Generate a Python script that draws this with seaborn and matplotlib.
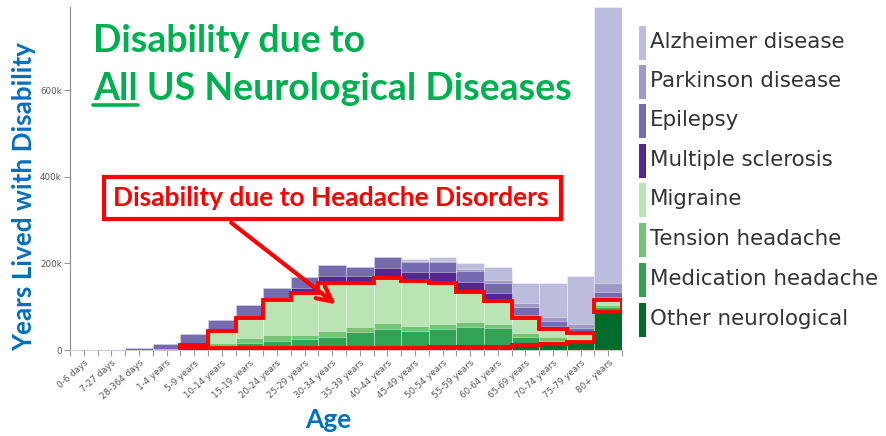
import matplotlib
matplotlib.use("Agg")
import matplotlib.pyplot as plt
import seaborn as sns
from matplotlib.patches import Rectangle, Polygon

ages = ["0-6 days", "7-27 days", "28-364 days", "1-4 years", "5-9 years",
        "10-14 years", "15-19 years", "20-24 years", "25-29 years", "30-34 years",
        "35-39 years", "40-44 years", "45-49 years", "50-54 years", "55-59 years",
        "60-64 years", "65-69 years", "70-74 years", "75-79 years", "80+ years"]

# years lived with disability, in thousands, bottom of the stack first
other = [0.2, 0.3, 0.8, 1.5, 3.5, 4.2, 4.2, 4.2, 4.2, 4.2, 4.2, 4.2, 4.5, 7, 8, 8, 11, 12.7, 19.5, 87.7]
medication = [0, 0, 0, 0, 1.5, 5, 12, 17.3, 22.3, 25.1, 38, 45, 39.6, 41.5, 44.4, 42, 19.5, 9.2, 4, 10.9]
tension = [0, 0, 0, 0, 1.5, 8, 12, 13.1, 7, 14.6, 11.6, 13.1, 12.2, 11.5, 12.9, 10, 7.6, 7, 3, 5.3]
migraine = [0, 0, 0, 0, 5, 27.3, 46.3, 80.8, 99.2, 110.7, 100.2, 105, 103, 94.6, 69.3, 53.1, 35.1, 20, 12, 10.8]
ms = [0, 0, 0, 0, 1, 2, 2, 3, 11, 16.2, 16.8, 21.3, 21, 25.4, 21.7, 19.1, 7.6, 6.5, 4, 7]
epilepsy = [0, 0.4, 3, 12, 23.7, 22.7, 27.4, 25.8, 24, 24.9, 20.1, 25.4, 22.3, 23, 26.7, 21.8, 19.1, 12.2, 8, 11.5]
parkinson = [0] * 12 + [2, 3.1, 5, 7.6, 7.9, 9.3, 9.5, 20.7]
alzheimer = [0] * 12 + [4.7, 9.2, 12.1, 30.7, 47.5, 77, 111.5, 637.7]

causes = ["Other neurological", "Medication headache", "Tension headache", "Migraine",
          "Multiple sclerosis", "Epilepsy", "Parkinson disease", "Alzheimer disease"]
series = [other, medication, tension, migraine, ms, epilepsy, parkinson, alzheimer]
colors = ["#006d2c", "#31a354", "#74c476", "#bae4b3",
          "#54278f", "#756bb1", "#9e9ac8", "#bcbddc"]

# running totals so the bars can be drawn as overlapping layers
cum = []
run = [0.0] * len(ages)
for s in series:
    run = [a + b for a, b in zip(run, s)]
    cum.append(run)

sns.set_theme(style="white")
fig = plt.figure(figsize=(8.87, 4.36), dpi=100)
W, H = 887, 436
ax = fig.add_axes([70 / W, 1 - 350 / H, (622 - 70) / W, (350 - 7) / H])

for k in range(len(series) - 1, -1, -1):
    sns.barplot(x=ages, y=cum[k], color=colors[k], width=1.0, ax=ax,
                edgecolor=(1, 1, 1, 0.45), linewidth=0.6, saturation=1)

# red outline around the headache disorders
hd_bottom = cum[0]
hd_top = cum[3]
pts_top, pts_bot = [], []
for i in range(4, 19):
    pts_top += [(i - 0.5, hd_top[i]), (i + 0.5, hd_top[i])]
    pts_bot += [(i - 0.5, hd_bottom[i]), (i + 0.5, hd_bottom[i])]
ax.add_patch(Polygon(pts_top + pts_bot[::-1], closed=True, fill=False,
                     edgecolor="red", lw=2.8, joinstyle="miter", zorder=5))
ax.add_patch(Rectangle((18.5, hd_bottom[19]), 1, hd_top[19] - hd_bottom[19], fill=False,
                       edgecolor="red", lw=2.8, joinstyle="miter", zorder=5))

ax.set_xlim(-0.5, 19.5)
ax.set_ylim(0, cum[-1][19])
ax.set_yticks([0, 200, 400, 600])
ax.set_yticklabels(["0", "200k", "400k", "600k"])
ax.set_xticks(range(len(ages)))
ax.set_xticklabels(ages, rotation=42, ha="right", va="top", rotation_mode="anchor")
ax.set_xticks([i - 0.5 for i in range(len(ages) + 1)], minor=True)
ax.tick_params(axis="both", which="both", labelsize=6.3, labelcolor="#555555",
               color="#999999", length=4, width=0.8, pad=2, direction="out")
ax.tick_params(axis="x", which="both", bottom=True)
ax.tick_params(axis="y", left=True)
ax.set_xlabel("")
ax.set_ylabel("")
for side in ["top", "right"]:
    ax.spines[side].set_visible(False)
ax.spines["left"].set_color("#888888")
ax.spines["bottom"].set_color("#cccccc")
ax.spines["left"].set_linewidth(0.8)
ax.spines["bottom"].set_linewidth(0.8)

# axis titles
blue = "#0070c0"
fig.text(24 / W, 1 - 197 / H, "Years Lived with Disability", rotation=90, color=blue,
         fontsize=18.8, fontweight="bold", family="Lato", ha="center", va="center")
fig.text(328 / W, 1 - 420 / H, "Age", color=blue, fontsize=19, fontweight="bold",
         family="Lato", ha="center", va="center")

# title
green = "#00b050"
fig.text(93 / W, 1 - 52 / H, "Disability due to", color=green, fontsize=27,
         fontweight="bold", family="Lato", ha="left", va="baseline")
fig.text(93 / W, 1 - 100 / H, "All US Neurological Diseases", color=green, fontsize=27,
         fontweight="bold", family="Lato", ha="left", va="baseline")
fig.canvas.draw()
tmp = fig.text(93 / W, 1 - 100 / H, "All", fontsize=27, fontweight="bold",
               family="Lato", alpha=0)
bb = tmp.get_window_extent(fig.canvas.get_renderer())
fig.add_artist(plt.Line2D([bb.x0 / W, bb.x1 / W], [1 - 105 / H, 1 - 105 / H],
                          color=green, lw=2.6, transform=fig.transFigure))

# headache callout
fig.add_artist(Rectangle((104 / W, 1 - 219 / H), (561 - 104) / W, (219 - 177) / H,
                         transform=fig.transFigure, facecolor="white",
                         edgecolor="red", lw=3))
fig.text(331 / W, 1 - 198 / H, "Disability due to Headache Disorders", color="red",
         fontsize=19, fontweight="bold", family="Lato", ha="center", va="center")
ax.annotate("", xy=(338 / W, 1 - 306 / H), xytext=(229 / W, 1 - 221 / H),
            xycoords="figure fraction", textcoords="figure fraction",
            arrowprops=dict(arrowstyle="->,head_length=0.9,head_width=0.45",
                            color="red", lw=3), zorder=6)

# legend
legend_y = [43, 82, 121.5, 161, 200, 240, 280, 320]
for j, k in enumerate(range(len(causes) - 1, -1, -1)):
    y = legend_y[j]
    fig.add_artist(Rectangle((639 / W, 1 - (y + 17) / H), 7 / W, 34 / H,
                             transform=fig.transFigure, facecolor=colors[k], edgecolor="none"))
    fig.text(650 / W, 1 - (y - 1) / H, causes[k], color="#333333", fontsize=15.4,
             ha="left", va="center")

fig.savefig("out.png", dpi=100)
